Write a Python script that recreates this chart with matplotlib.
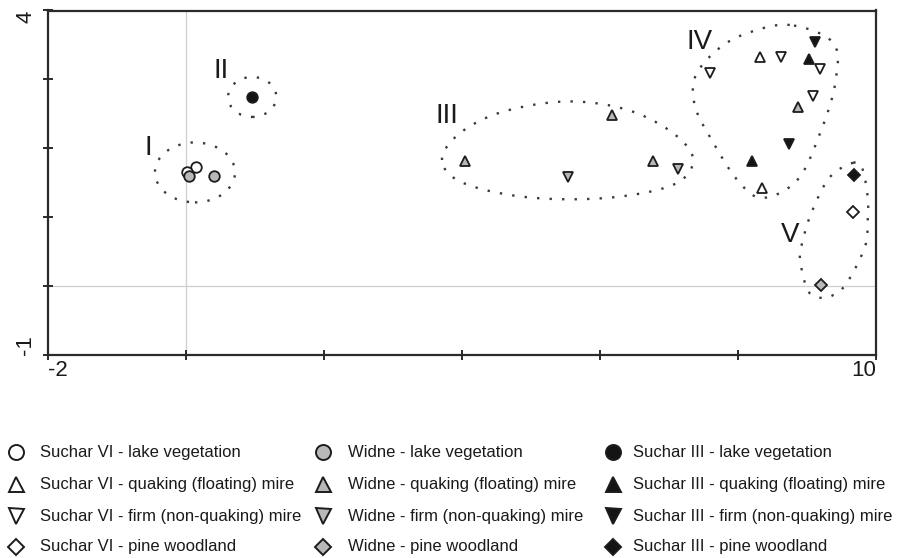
import numpy as np
import matplotlib
matplotlib.use("Agg")
import matplotlib.pyplot as plt
from matplotlib.patches import Ellipse

plt.rcParams['font.family'] = ['Liberation Sans', 'DejaVu Sans']

# ---- ordination scores (axis 1, axis 2) ----
suchar6_lake_x = [0.15, 0.02]
suchar6_lake_y = [1.73, 1.65]
widne_lake_x = [0.05, 0.40]
widne_lake_y = [1.60, 1.60]
suchar3_lake_x = [0.96]
suchar3_lake_y = [2.74]

suchar6_quaking_x = [8.32, 8.35]
suchar6_quaking_y = [3.33, 1.43]
widne_quaking_x = [4.04, 6.17, 6.77, 8.87]
widne_quaking_y = [1.82, 2.48, 1.82, 2.60]
suchar3_quaking_x = [9.03, 8.20]
suchar3_quaking_y = [3.29, 1.81]

suchar6_firm_x = [8.63, 9.19, 7.59, 9.08]
suchar6_firm_y = [3.32, 3.15, 3.09, 2.76]
widne_firm_x = [5.53, 7.13]
widne_firm_y = [1.59, 1.70]
suchar3_firm_x = [9.12, 8.74]
suchar3_firm_y = [3.55, 2.06]

suchar6_pine_x = [9.67]
suchar6_pine_y = [1.07]
widne_pine_x = [9.21]
widne_pine_y = [0.01]
suchar3_pine_x = [9.68]
suchar3_pine_y = [1.61]

legend_labels = [
    ["Suchar VI - lake vegetation", "Suchar VI - quaking (floating) mire",
     "Suchar VI - firm (non-quaking) mire", "Suchar VI - pine woodland"],
    ["Widne - lake vegetation", "Widne - quaking (floating) mire",
     "Widne - firm (non-quaking) mire", "Widne - pine woodland"],
    ["Suchar III - lake vegetation", "Suchar III - quaking (floating) mire",
     "Suchar III - firm (non-quaking) mire", "Suchar III - pine woodland"],
]

group_names = ["I", "II", "III", "IV", "V"]
group_label_x = [-0.55, 0.51, 3.78, 7.45, 8.75]
group_label_y = [2.00, 3.12, 2.47, 3.55, 0.74]

# outlines of groups drawn as smooth closed curves
group3_outline_x = [3.71, 3.97, 4.59, 5.52, 6.39, 7.06, 7.35, 7.06, 6.10, 4.94, 4.01]
group3_outline_y = [1.83, 2.22, 2.53, 2.68, 2.56, 2.22, 1.83, 1.47, 1.28, 1.29, 1.50]
group4_outline_x = [8.75, 8.13, 7.70, 7.38, 7.38, 7.62, 7.99, 8.35, 8.86, 9.19, 9.41, 9.38]
group4_outline_y = [3.79, 3.67, 3.43, 3.04, 2.60, 2.12, 1.54, 1.28, 1.54, 2.22, 2.95, 3.53]
group5_outline_x = [9.67, 9.33, 9.07, 8.93, 8.90, 9.01, 9.19, 9.38, 9.58, 9.84, 9.88, 9.88, 9.80]
group5_outline_y = [1.79, 1.58, 1.08, 0.63, 0.38, -0.06, -0.17, -0.13, 0.05, 0.57, 0.96, 1.29, 1.71]


def closed_spline(xs, ys, n=40):
    p = np.column_stack([xs, ys]).astype(float)
    m = len(p)
    t = np.linspace(0, 1, n, endpoint=False)[:, None]
    segs = []
    for i in range(m):
        p0, p1, p2, p3 = p[(i - 1) % m], p[i], p[(i + 1) % m], p[(i + 2) % m]
        segs.append(0.5 * (2 * p1 + (-p0 + p2) * t
                           + (2 * p0 - 5 * p1 + 4 * p2 - p3) * t ** 2
                           + (-p0 + 3 * p1 - 3 * p2 + p3) * t ** 3))
    out = np.vstack(segs)
    return np.vstack([out, out[:1]])


W, H = 904, 558
fig = plt.figure(figsize=(W / 100, H / 100), dpi=100)
ax = fig.add_axes([48 / W, 1 - 355 / H, (876 - 48) / W, (355 - 10.5) / H])

ax.set_xlim(-2, 10)
ax.set_ylim(-1, 4)

ax.axvline(0, color="#cfcfcf", lw=0.9, zorder=0)
ax.axhline(0, color="#cfcfcf", lw=0.9, zorder=0)

edge = "#1c1c1c"
white, grey, black = "#ffffff", "#b8b8b8", "#141414"
msz = {"o": 7.6, "^": 7.6, "v": 7.6, "D": 5.8}
mew = 1.3

series = [
    (suchar6_lake_x, suchar6_lake_y, "o", white),
    (widne_lake_x, widne_lake_y, "o", grey),
    (suchar3_lake_x, suchar3_lake_y, "o", black),
    (suchar6_quaking_x, suchar6_quaking_y, "^", white),
    (widne_quaking_x, widne_quaking_y, "^", grey),
    (suchar3_quaking_x, suchar3_quaking_y, "^", black),
    (suchar6_firm_x, suchar6_firm_y, "v", white),
    (widne_firm_x, widne_firm_y, "v", grey),
    (suchar3_firm_x, suchar3_firm_y, "v", black),
    (suchar6_pine_x, suchar6_pine_y, "D", white),
    (widne_pine_x, widne_pine_y, "D", grey),
    (suchar3_pine_x, suchar3_pine_y, "D", black),
]
for xs, ys, mk, fc in series:
    ax.plot(xs, ys, ls="none", marker=mk, ms=msz[mk], mfc=fc, mec=edge,
            mew=mew, zorder=3)

dot_color = "#3a3a3a"
dot_ls = (0, (1, 4.3))
ax.add_patch(Ellipse((0.13, 1.65), 1.16, 0.87, fill=False, ec=dot_color,
                     lw=1.7, linestyle=dot_ls, zorder=2))
ax.add_patch(Ellipse((0.96, 2.745), 0.70, 0.58, fill=False, ec=dot_color,
                     lw=1.7, linestyle=dot_ls, zorder=2))
for ox, oy in [(group3_outline_x, group3_outline_y),
               (group4_outline_x, group4_outline_y),
               (group5_outline_x, group5_outline_y)]:
    c = closed_spline(ox, oy)
    ax.plot(c[:, 0], c[:, 1], color=dot_color, lw=1.7, linestyle=dot_ls,
            dash_capstyle="butt", zorder=2)

for name, gx, gy in zip(group_names, group_label_x, group_label_y):
    ax.text(gx, gy, name, fontsize=20, ha="center", va="center",
            color="#1a1a1a")

# axes frame and ticks
for sp in ax.spines.values():
    sp.set_linewidth(1.6)
    sp.set_color("#2a2a2a")
ax.set_xticks(np.arange(-2, 11, 2))
ax.set_xticklabels(["-2", "", "", "", "", "", "10"])
ax.set_yticks(np.arange(-1, 5, 1))
ax.set_yticklabels(["-1", "", "", "", "", "4"])
ax.tick_params(direction="inout", length=7, width=1.4, color="#2a2a2a",
               labelsize=16, labelcolor="#1a1a1a")
ax.tick_params(axis="x", pad=0)
ax.tick_params(axis="y", pad=5)
xl = ax.get_xticklabels()
xl[0].set_ha("left")
xl[-1].set_ha("right")
yl = ax.get_yticklabels()
for t in yl:
    t.set_rotation(90)
yl[0].set_va("bottom")
yl[-1].set_va("top")

# legend in figure pixel coordinates
lax = fig.add_axes([0, 0, 1, 1])
lax.set_xlim(0, W)
lax.set_ylim(H, 0)
lax.axis("off")
lax.patch.set_visible(False)
col_marker_x = [16, 323, 613]
col_text_x = [40, 348, 633]
row_y = [452, 484, 516, 547]
col_fill = [white, grey, black]
row_marker = ["o", "^", "v", "D"]
leg_size = {"o": 10.8, "^": 10.8, "v": 10.8, "D": 8.4}
for ci in range(3):
    for ri in range(4):
        mk = row_marker[ri]
        lax.plot([col_marker_x[ci]], [row_y[ri]], ls="none", marker=mk,
                 ms=leg_size[mk], mfc=col_fill[ci], mec=edge, mew=1.4)
        lax.text(col_text_x[ci], row_y[ri], legend_labels[ci][ri],
                 fontsize=12, va="center", ha="left", color="#1a1a1a")

fig.savefig("out.png", dpi=100)
